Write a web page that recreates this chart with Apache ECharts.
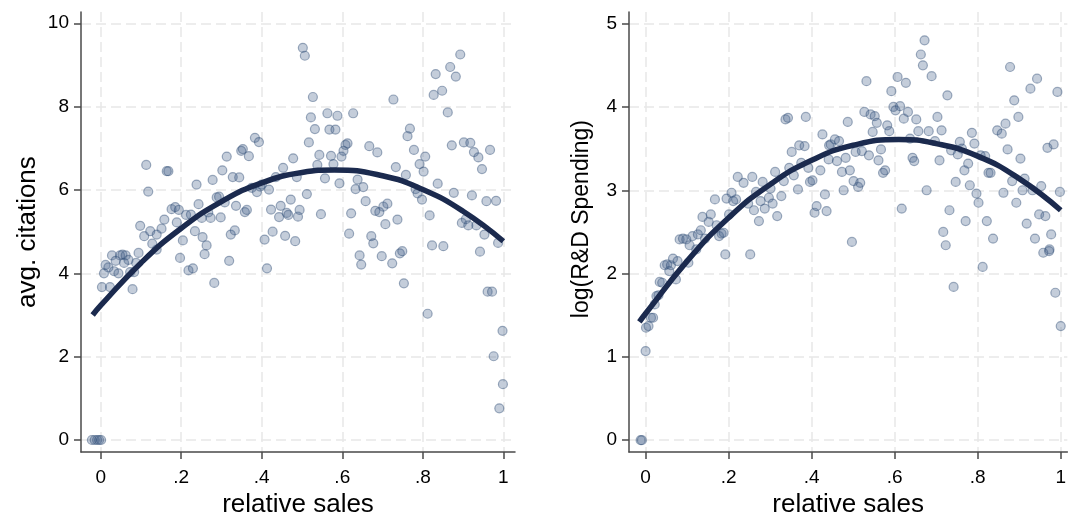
<!DOCTYPE html>
<html>
<head>
<meta charset="utf-8">
<script src="https://cdn.jsdelivr.net/npm/echarts@6/dist/echarts.min.js"></script>
<style>html,body{margin:0;padding:0;background:#fff}#c{width:1069px;height:523px}</style>
</head>
<body>
<div id="c"></div>
<script>
// ---- data ----
const xTicks = [0, 0.2, 0.4, 0.6, 0.8, 1];
const citationTicks = [0, 2, 4, 6, 8, 10];
const spendingTicks = [0, 1, 2, 3, 4, 5];

// [relative sales, avg. citations]
const citationPoints = [
  [-0.022,0],[-0.015,0],[-0.009,0],[-0.004,0],[0.001,0],
  [0.003,3.67],[0.023,3.67],[0.008,4.0],[0.012,4.2],[0.019,4.14],[0.028,4.43],[0.033,4.05],[0.037,4.3],[0.044,4.0],[0.048,4.43],[0.054,4.45],[0.058,4.25],[0.062,4.43],[0.069,4.32],[0.073,4.03],[0.079,3.62],[0.083,4.03],[0.088,4.25],[0.094,4.49],[0.139,4.57],[0.197,4.37],[0.218,4.07],[0.229,4.12],[0.258,4.46],[0.282,3.77],[0.319,4.3],[0.413,4.12],
  [0.113,6.6],[0.118,5.96],[0.098,5.14],[0.108,4.89],[0.123,5.01],[0.139,4.93],[0.151,5.07],[0.128,4.71],[0.158,5.29],[0.164,6.45],[0.168,6.45],[0.176,5.54],[0.185,5.59],[0.194,5.52],[0.189,5.22],[0.204,4.79],[0.212,5.4],[0.224,5.41],[0.234,5.01],[0.238,6.13],[0.243,5.66],[0.251,5.33],[0.253,4.87],[0.263,4.67],[0.267,5.46],[0.273,5.33],[0.278,6.24],[0.288,5.82],[0.294,5.84],[0.298,5.34],[0.302,6.47],[0.308,5.7],[0.313,6.8],[0.323,4.93],[0.328,6.31],[0.333,5.03],[0.336,5.62],[0.344,6.3],[0.349,6.94],[0.353,6.98],[0.358,5.47],[0.363,5.52],[0.368,6.81],[0.383,7.25],[0.393,7.15],[0.375,6.05],[0.388,5.95],[0.396,6.08],[0.4,6.13],[0.407,4.81],[0.418,6.01],[0.423,5.53],[0.427,5.0],[0.435,6.31],[0.447,5.62],[0.453,6.53],[0.443,5.35],[0.458,4.9],[0.462,5.45],[0.466,5.4],[0.472,5.77],[0.478,6.76],[0.483,4.77],[0.487,6.31],[0.49,5.36],[0.494,5.52],
  [0.502,9.41],[0.507,9.22],[0.527,8.23],[0.522,7.74],[0.532,7.46],[0.517,7.14],[0.563,7.84],[0.568,7.45],[0.583,7.45],[0.588,7.78],[0.627,7.84],[0.543,6.84],[0.572,6.82],[0.538,6.6],[0.578,6.62],[0.598,6.8],[0.603,6.94],[0.608,7.08],[0.613,7.12],[0.667,7.05],[0.687,6.9],[0.727,8.17],[0.768,7.47],[0.762,7.29],[0.778,6.96],[0.806,6.8],[0.792,6.62],[0.802,6.44],[0.832,8.78],[0.868,8.95],[0.882,8.72],[0.893,9.25],[0.827,8.28],[0.848,8.38],[0.862,7.86],[0.872,7.07],[0.902,7.14],[0.918,7.13],[0.927,6.91],[0.938,6.78],[0.967,6.96],[0.947,6.5],[0.557,6.28],[0.593,6.16],[0.638,6.25],[0.633,6.02],[0.652,6.07],[0.733,6.55],[0.758,6.36],[0.837,6.15],[0.782,6.02],[0.787,5.92],[0.798,5.77],[0.817,5.39],[0.877,5.93],[0.922,5.87],[0.958,5.73],[0.982,5.74],[0.512,5.9],[0.547,5.42],[0.622,5.44],[0.658,5.73],[0.682,5.5],[0.692,5.47],[0.702,5.6],[0.712,5.67],[0.707,5.18],[0.737,5.29],[0.617,4.95],[0.672,4.89],[0.677,4.72],[0.823,4.67],[0.851,4.65],[0.897,5.21],[0.907,5.3],[0.913,5.15],[0.933,5.15],[0.953,4.93],[0.987,4.73],
  [0.643,4.43],[0.647,4.21],[0.698,4.41],[0.724,4.24],[0.743,4.48],[0.749,4.53],[0.753,3.76],[0.812,3.03],[0.942,4.52],[0.961,3.56],[0.972,3.56],[0.998,2.62],[0.976,2.01],[0.999,1.34],[0.99,0.76]
];
// fitted curve, read along its path
const citationFitX = [-0.02, 0, 0.1, 0.2, 0.3, 0.4, 0.5, 0.58, 0.7, 0.8, 0.9, 1.0];
const citationFitY = [3.0, 3.23, 4.25, 5.08, 5.72, 6.17, 6.42, 6.48, 6.34, 6.01, 5.49, 4.77];

// [relative sales, log(R&D Spending)]
const spendingPoints = [
  [-0.012,0],[-0.009,0],[0.0,1.07],[0.001,1.35],[0.007,1.37],[0.013,1.47],[0.018,1.47],[0.022,1.63],[0.026,1.73],[0.031,1.74],[0.034,1.9],[0.04,1.89],[0.046,2.1],[0.052,2.11],[0.057,2.03],[0.061,2.1],[0.066,2.18],[0.077,2.15],[0.073,1.93],[0.103,2.13],[0.122,2.29],[0.192,2.23],[0.252,2.23],
  [0.082,2.41],[0.09,2.42],[0.098,2.41],[0.106,2.34],[0.113,2.45],[0.126,2.47],[0.133,2.52],[0.143,2.42],[0.137,2.68],[0.152,2.62],[0.157,2.71],[0.167,2.89],[0.171,2.58],[0.177,2.45],[0.183,2.48],[0.188,2.49],[0.195,2.9],[0.201,2.71],[0.207,2.97],[0.211,2.87],[0.218,2.89],[0.222,3.16],[0.236,3.09],[0.247,2.84],[0.257,3.16],[0.261,2.76],[0.266,2.98],[0.273,2.63],[0.277,2.87],[0.282,3.1],[0.287,2.78],[0.297,2.91],[0.301,3.02],[0.306,2.84],[0.312,3.22],[0.317,2.69],[0.327,2.93],[0.333,3.11],[0.337,3.85],[0.343,3.87],[0.346,3.27],[0.352,3.46],[0.357,3.18],[0.367,3.01],[0.37,3.54],[0.383,3.53],[0.375,3.33],[0.386,3.88],[0.392,3.27],[0.396,3.1],[0.402,3.12],[0.407,2.73],[0.412,2.81],[0.421,3.24],[0.426,3.67],[0.432,2.95],[0.436,2.75],[0.441,3.37],[0.442,3.54],
  [0.446,3.55],[0.456,3.61],[0.466,3.59],[0.461,3.35],[0.473,3.22],[0.477,3.0],[0.482,3.39],[0.487,3.82],[0.492,3.24],[0.497,2.38],[0.501,3.11],[0.506,3.46],[0.512,3.04],[0.517,3.09],[0.521,3.47],[0.527,3.94],[0.532,4.31],[0.538,3.42],[0.542,3.91],[0.552,3.89],[0.547,3.7],[0.557,3.81],[0.561,3.36],[0.567,3.49],[0.572,3.21],[0.577,3.24],[0.582,3.78],[0.587,3.71],[0.592,4.19],[0.597,4.0],[0.602,3.96],[0.613,4.01],[0.607,4.36],[0.617,2.78],[0.622,3.86],[0.627,4.29],[0.632,3.94],[0.637,3.62],[0.643,3.39],[0.647,3.35],[0.652,3.85],[0.657,3.71],[0.663,4.63],[0.668,4.5],[0.672,4.8],[0.677,3.0],[0.682,3.71],[0.689,4.37],[0.697,3.59],[0.703,3.88],[0.708,3.36],[0.713,3.72],[0.717,2.5],[0.723,2.34],[0.727,4.14],[0.732,2.76],[0.736,3.48],[0.747,3.1],[0.752,3.43],[0.757,3.58],[0.762,3.5],[0.768,3.24],[0.771,2.63],[0.777,3.32],[0.781,3.06],[0.786,3.69],[0.792,3.56],[0.797,2.96],[0.802,2.85],[0.807,3.42],[0.818,3.41],[0.822,2.63],[0.826,3.21],[0.831,3.21],[0.837,2.42],[0.847,3.72],[0.858,3.68],[0.862,2.97],[0.867,3.8],[0.872,3.49],[0.878,4.48],[0.883,3.11],[0.888,4.08],[0.893,2.85],[0.898,3.88],[0.903,3.38],[0.908,3.0],[0.913,3.14],[0.918,2.6],[0.927,4.22],[0.932,3.0],[0.938,2.42],[0.943,4.34],[0.948,2.71],[0.953,3.05],[0.963,2.69],[0.968,3.51],[0.983,3.55],[0.977,2.47],[0.973,2.29],[0.992,4.18],[0.998,2.98],
  [0.742,1.84],[0.812,2.08],[0.958,2.25],[0.972,2.27],[0.987,1.77],[1.0,1.37]
];
const spendingFitX = [-0.015, 0, 0.1, 0.2, 0.3, 0.4, 0.5, 0.61, 0.7, 0.8, 0.9, 1.0];
const spendingFitY = [1.42, 1.52, 2.15, 2.67, 3.07, 3.36, 3.54, 3.61, 3.56, 3.41, 3.14, 2.76];

// ---- chart ----
const FONT = '"Liberation Sans", Arial, sans-serif';
const zip = (xs, ys) => xs.map((x, i) => [x, ys[i]]);
const fmtX = v => (Math.abs(v) < 1e-9 ? '0' : Math.abs(v - 1) < 1e-9 ? '1' : String(+v.toFixed(1)).replace(/^0/, ''));
const AX = '#4a4a4a';

function xAxisCfg(grid, min, max) {
  return {
    type: 'value', gridIndex: grid, min: min, max: max,
    name: 'relative sales', nameLocation: 'middle', nameGap: 39,
    nameTextStyle: { fontFamily: FONT, fontSize: 26, color: '#000' },
    axisLine: { show: true, onZero: false, lineStyle: { color: AX, width: 1.5 } },
    axisTick: { show: true, length: 7, customValues: xTicks, lineStyle: { color: AX, width: 1.5 } },
    axisLabel: { customValues: xTicks, formatter: fmtX, margin: 16, fontFamily: FONT, fontSize: 19, color: '#000' },
    splitLine: { show: true, lineStyle: { color: '#e8e8e8', width: 1.5, type: [10, 5] } }
  };
}
function yAxisCfg(grid, min, max, ticks, name, size, gap, pad) {
  return {
    type: 'value', gridIndex: grid, min: min, max: max,
    name: name, nameLocation: 'middle', nameGap: gap, nameRotate: 90,
    nameTextStyle: { fontFamily: FONT, fontSize: size, color: '#000', padding: pad },
    axisLine: { show: true, onZero: false, lineStyle: { color: AX, width: 1.5 } },
    axisTick: { show: true, length: 7, customValues: ticks, lineStyle: { color: AX, width: 1.5 } },
    axisLabel: { customValues: ticks, margin: 12, fontFamily: FONT, fontSize: 19, color: '#000' },
    splitLine: { show: true, lineStyle: { color: '#e8e8e8', width: 1.5, type: [10, 5] } }
  };
}
const pointStyle = { color: 'rgba(70,100,140,0.40)', borderColor: 'rgba(45,75,115,0.55)', borderWidth: 1.2 };
const fitStyle = { color: '#1b2a4e', width: 5.5 };

const chart = echarts.init(document.getElementById('c'), null, { renderer: 'canvas' });
chart.setOption({
  animation: false,
  backgroundColor: '#fff',
  grid: [
    { left: 81, top: 12, width: 434, height: 442 },
    { left: 629, top: 12, width: 440, height: 442 }
  ],
  xAxis: [xAxisCfg(0, -0.049, 1.029), xAxisCfg(1, -0.04, 1.016)],
  yAxis: [
    yAxisCfg(0, -0.29, 10.27, citationTicks, 'avg. citations', 26, 40, [0, 0, 0, 0]),
    yAxisCfg(1, -0.143, 5.14, spendingTicks, 'log(R&D Spending)', 23, 36, [0, 0, 0, 26])
  ],
  series: [
    { type: 'scatter', xAxisIndex: 0, yAxisIndex: 0, data: citationPoints, symbol: 'circle', symbolSize: 9, itemStyle: pointStyle, z: 2 },
    { type: 'line', xAxisIndex: 0, yAxisIndex: 0, data: zip(citationFitX, citationFitY), smooth: 0.5, showSymbol: false, symbol: 'none', lineStyle: fitStyle, z: 3 },
    { type: 'scatter', xAxisIndex: 1, yAxisIndex: 1, data: spendingPoints, symbol: 'circle', symbolSize: 9, itemStyle: pointStyle, z: 2 },
    { type: 'line', xAxisIndex: 1, yAxisIndex: 1, data: zip(spendingFitX, spendingFitY), smooth: 0.5, showSymbol: false, symbol: 'none', lineStyle: fitStyle, z: 3 }
  ]
});
</script>
</body>
</html>
